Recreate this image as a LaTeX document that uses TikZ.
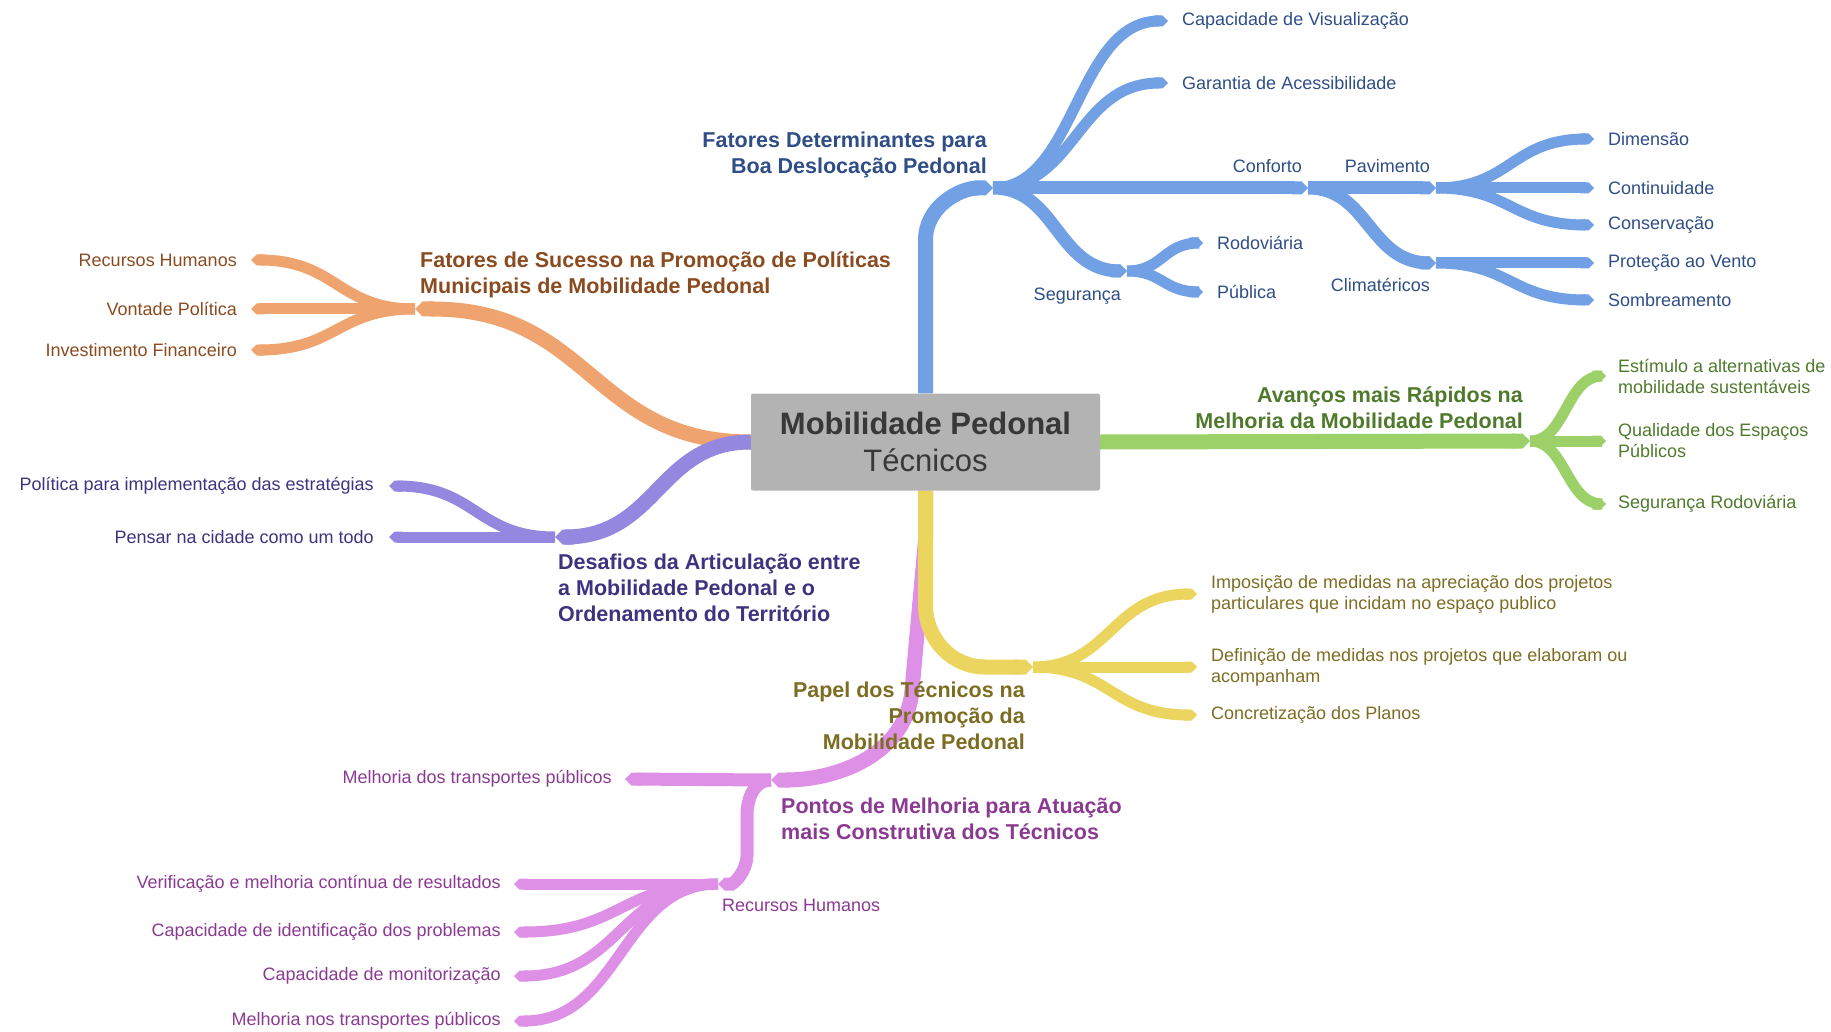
\documentclass[tikz,border=0pt]{standalone}
\usepackage{fontspec}
\setmainfont{Liberation Sans}
\usetikzlibrary{positioning,backgrounds,arrows.meta,calc}
\definecolor{hubgray}{HTML}{B3B3B3}
\definecolor{hubtx}{HTML}{383838}
\definecolor{bluebr}{HTML}{72A0E5}
\definecolor{bluetx}{HTML}{2F4D86}
\definecolor{orbr}{HTML}{EFA46F}
\definecolor{ortx}{HTML}{8A4B20}
\definecolor{pubr}{HTML}{9487E0}
\definecolor{putx}{HTML}{3E337F}
\definecolor{grbr}{HTML}{9CD16A}
\definecolor{grtx}{HTML}{4F7A2C}
\definecolor{yebr}{HTML}{EBD55F}
\definecolor{yetx}{HTML}{7D6D22}
\definecolor{pibr}{HTML}{DE90E6}
\definecolor{pitx}{HTML}{8B3A92}

\begin{document}
\begin{tikzpicture}[x=1pt, y=1pt,
hub/.style={fill=hubgray, rounded corners=2pt, minimum width=349pt, minimum height=97pt,
    align=center, text=hubtx, font=\fontsize{31}{37}\selectfont},
head/.style={text=#1, font=\fontsize{21.5}{25.7}\selectfont\bfseries, inner sep=0pt},
lbl/.style={text=#1, font=\fontsize{18}{21}\selectfont, inner sep=0pt},
br/.style={draw=#1, line width=15pt, -{Triangle Cap[]}},
sub/.style={draw=#1, line width=13pt, -{Triangle Cap[]}},
twig/.style={draw=#1, line width=11pt, -{Triangle Cap[]}},
sb/.style={to path={let \p1=(\tikztostart), \p2=(\tikztotarget) in
    .. controls ({\x1+#1*0.5*(\x2-\x1)},\y1) and ({\x1+#1*0.5*(\x2-\x1)},\y2)
    .. ({\x1+#1*(\x2-\x1)},\y2) -- (\tikztotarget)}},
sb/.default=0.95]
\useasboundingbox (0,0) rectangle (1831,-1032);

\node[hub] (hub) at (925.5,-442) {\textbf{Mobilidade Pedonal}\\Técnicos};

% branch points
\coordinate (fat) at (993,-188);
\coordinate (conf) at (1308,-188);
\coordinate (seg) at (1127,-271);
\coordinate (pav) at (1436,-188);
\coordinate (cli) at (1436,-263);
\coordinate (suc) at (415,-309);
\coordinate (des) at (555,-537);
\coordinate (ava) at (1530,-441);
\coordinate (pap) at (1033,-667);
\coordinate (pon) at (771,-780);
\coordinate (rhp) at (718,-884);

\node[head=bluetx, align=right, above left=10pt and 6pt of fat] (fat-t) {Fatores Determinantes para\\Boa Deslocação Pedonal};
\node[head=ortx, align=left, above right=11pt and 5pt of suc] (suc-t) {Fatores de Sucesso na Promoção de Políticas\\Municipais de Mobilidade Pedonal};
\node[head=putx, align=left, below right=17pt and 3pt of des] (des-t) {Desafios da Articulação entre\\a Mobilidade Pedonal e o\\Ordenamento do Território};
\node[head=grtx, align=right, above left=12pt and 7pt of ava] (ava-t) {Avanços mais Rápidos na\\Melhoria da Mobilidade Pedonal};
\node[head=yetx, align=right, below left=15pt and 8pt of pap] (pap-t) {Papel dos Técnicos na\\Promoção da\\Mobilidade Pedonal};
\node[head=pitx, align=left, below right=18pt and 10pt of pon] (pon-t) {Pontos de Melhoria para Atuação\\mais Construtiva dos Técnicos};

\node[lbl=bluetx, above left=15pt and 6pt of conf] (conf-t) {Conforto};
\node[lbl=bluetx, above left=15pt and 6pt of pav] (pav-t) {Pavimento};
\node[lbl=bluetx, below left=17pt and 6pt of seg] (seg-t) {Segurança};
\node[lbl=bluetx, below left=15pt and 6pt of cli] (cli-t) {Climatéricos};
\node[lbl=pitx, below right=15pt and 4pt of rhp] (rhp-t) {Recursos Humanos};

% leaves
\foreach \k/\px/\py/\t in {cap/1168/21/Capacidade de Visualização, gar/1168/83/Garantia de Acessibilidade,
    dim/1594/139/Dimensão, cont/1594/188/Continuidade, cons/1594/225/Conservação,
    vent/1594/263/Proteção ao Vento, somb/1594/300/Sombreamento,
    rod/1203/243/Rodoviária, pub/1203/292/Pública}{
  \coordinate (\k) at (\px,-\py);
  \node[lbl=bluetx, right=14pt of \k] (\k-t) {\t};}
\foreach \k/\py/\t in {rh/260/Recursos Humanos, vont/309/Vontade Política, inv/350/Investimento Financeiro}{
  \coordinate (\k) at (251,-\py);
  \node[lbl=ortx, left=14pt of \k] (\k-t) {\t};}
\foreach \k/\py/\t in {pol/486/Política para implementação das estratégias, pens/537/Pensar na cidade como um todo}{
  \coordinate (\k) at (389,-\py);
  \node[lbl=putx, left=15pt of \k] (\k-t) {\t};}
\foreach \k/\py/\t in {est/376/Estímulo a alternativas de\\mobilidade sustentáveis,
    qual/441/Qualidade dos Espaços\\Públicos, segr/504/Segurança Rodoviária}{
  \coordinate (\k) at (1606,-\py);
  \node[lbl=grtx, align=left, right=12pt of \k] (\k-t) {\t};}
\foreach \k/\py/\t in {imp/594/Imposição de medidas na apreciação dos projetos\\particulares que incidam no espaço publico,
    def/667/Definição de medidas nos projetos que elaboram ou\\acompanham, conc/715/Concretização dos Planos}{
  \coordinate (\k) at (1197,-\py);
  \node[lbl=yetx, align=left, right=14pt of \k] (\k-t) {\t};}
\coordinate (mtp) at (625,-779);
\node[lbl=pitx, left=13pt of mtp] (mtp-t) {Melhoria dos transportes públicos};
\foreach \k/\py/\t in {ver/884/Verificação e melhoria contínua de resultados, ident/932/Capacidade de identificação dos problemas,
    mon/976/Capacidade de monitorização, mel/1021/Melhoria nos transportes públicos}{
  \coordinate (\k) at (514,-\py);
  \node[lbl=pitx, left=13pt of \k] (\k-t) {\t};}

\begin{scope}[on background layer]
% blue
\draw[br=bluebr] (hub.north) -- (925.5,-240) to[out=90,in=180] (fat);
\foreach \k in {cap,gar} \draw[twig=bluebr] (fat) to[sb] (\k);
\draw[sub=bluebr] (fat) -- (conf);
\draw[sub=bluebr] (fat) to[sb] (seg);
\draw[sub=bluebr] (conf) -- (pav);
\draw[sub=bluebr] (conf) to[sb] (cli);
\foreach \k in {dim,cont,cons} \draw[twig=bluebr] (pav) to[sb] (\k);
\foreach \k in {vent,somb} \draw[twig=bluebr] (cli) to[sb] (\k);
\foreach \k in {rod,pub} \draw[twig=bluebr] (seg) to[sb] (\k);
% orange, purple
\draw[br=orbr] (hub.west) to[sb] (suc);
\foreach \k in {rh,vont,inv} \draw[twig=orbr] (suc) to[sb] (\k);
\draw[br=pubr] (hub.west) to[sb] (des);
\foreach \k in {pol,pens} \draw[twig=pubr] (des) to[sb] (\k);
% green
\draw[br=grbr] (hub.east) -- (ava);
\foreach \k in {est,qual,segr} \draw[twig=grbr] (ava) to[sb] (\k);
% pink, yellow
\draw[br=pibr] (hub.south) -- (925.5,-540) -- (912,-690) to[out=-95,in=0] (pon);
\draw[sub=pibr] (pon) -- (mtp);
\draw[sub=pibr] (pon) to[out=180,in=90] (747,-815) -- (747,-855) to[out=-90,in=0] (rhp);
\foreach \k in {ver,ident,mon,mel} \draw[twig=pibr] (rhp) to[sb] (\k);
\draw[br=yebr] (hub.south) -- (925.5,-605) to[out=-90,in=180] (985,-667) -- (pap);
\foreach \k in {imp,def,conc} \draw[twig=yebr] (pap) to[sb] (\k);
\end{scope}
\end{tikzpicture}
\end{document}
